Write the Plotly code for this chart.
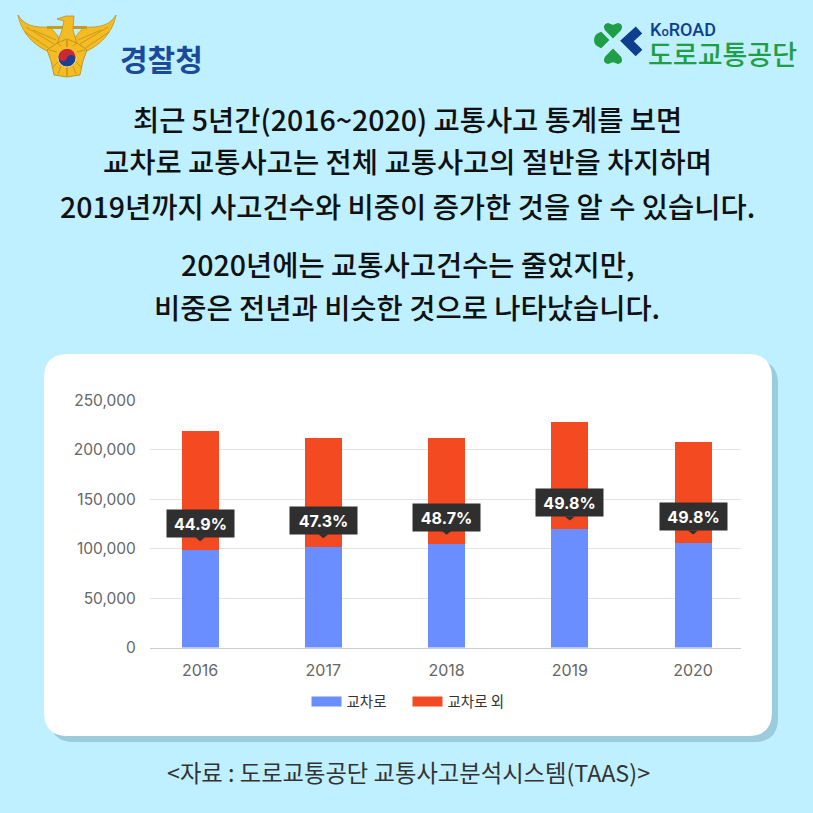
"""Intersection share of traffic accidents, 2016-2020 (card news layout)."""

import plotly.graph_objects as go

W = H = 813
BG = "#BFF0FF"
KR = "Noto Sans CJK KR"

years = [2016, 2017, 2018, 2019, 2020]
crossing = [98500, 101500, 105000, 119500, 105300]
other = [120500, 110500, 107000, 109200, 102200]
shares = ["44.9%", "47.3%", "48.7%", "49.8%", "49.8%"]
y_ticks = [0, 50000, 100000, 150000, 200000, 250000]
series_names = ["교차로", "교차로 외"]
series_colors = ["#6A8DFF", "#F34A22"]

heading = [
    ("최근 5년간(2016~2020) 교통사고 통계를 보면", 118),
    ("교차로 교통사고는 전체 교통사고의 절반을 차지하며", 161),
    ("2019년까지 사고건수와 비중이 증가한 것을 알 수 있습니다.", 205),
    ("2020년에는 교통사고건수는 줄었지만,", 263),
    ("비중은 전년과 비슷한 것으로 나타났습니다.", 306),
]
source = "<자료 : 도로교통공단 교통사고분석시스템(TAAS)>"


def px_path(points, close=True):
    # page pixels -> paper coordinates; items are "L"/"M" points or raw "Q"/"C" groups
    out = []
    for cmd, *xy in points:
        pairs = [f"{xy[i] / W:.5f},{1 - xy[i + 1] / H:.5f}" for i in range(0, len(xy), 2)]
        out.append(cmd + " ".join(pairs))
    return " ".join(out) + (" Z" if close else "")


def round_rect(x0, y0, x1, y1, r):
    return px_path([
        ("M", x0 + r, y0), ("L", x1 - r, y0), ("Q", x1, y0, x1, y0 + r),
        ("L", x1, y1 - r), ("Q", x1, y1, x1 - r, y1), ("L", x0 + r, y1),
        ("Q", x0, y1, x0, y1 - r), ("L", x0, y0 + r), ("Q", x0, y0, x0 + r, y0),
    ])


def deco(path, fill="rgba(0,0,0,0)", line=None, width=0):
    return dict(type="path", xref="paper", yref="paper", path=path, fillcolor=fill,
                line=dict(color=line or "rgba(0,0,0,0)", width=width), layer="below")


def mirror(points, cx=67):
    return [(p[0], *[2 * cx - v if i % 2 == 0 else v for i, v in enumerate(p[1:])]) for p in points]


def page_text(text, x, y, font, xanchor="center"):
    return dict(text=text, x=x / W, y=1 - y / H, xref="paper", yref="paper", showarrow=False,
                xanchor=xanchor, yanchor="middle", font=font)


shapes = [
    deco(round_rect(50, 360, 778, 742, 24), "#9CCBDB"),
    deco(round_rect(44, 354, 772, 736, 24), "#FFFFFF"),
]

# police emblem
GOLD, GOLD_D = "#F4BC22", "#B58A1C"
wing = [("M", 18, 15), ("C", 24, 25, 34, 28, 50, 27), ("L", 58, 36), ("L", 60, 48), ("L", 52, 53),
        ("C", 38, 48, 22, 36, 18, 15)]
shapes += [deco(px_path(wing), GOLD, GOLD_D, 0.7), deco(px_path(mirror(wing)), GOLD, GOLD_D, 0.7)]
for pts in ([("M", 26, 27), ("L", 54, 44)], [("M", 33, 30), ("L", 56, 40)], [("M", 25, 32), ("L", 50, 49)]):
    shapes += [deco(px_path(pts, False), line=GOLD_D, width=0.7),
               deco(px_path(mirror(pts), False), line=GOLD_D, width=0.7)]
shapes += [
    deco(px_path([("M", 47, 26), ("L", 87, 26), ("L", 87, 29), ("L", 47, 29)]), "#C99A20"),
    deco(px_path([("M", 57, 19), ("L", 66, 16), ("L", 74, 16), ("L", 73, 30), ("L", 77, 44), ("L", 57, 44),
                  ("L", 62, 30), ("L", 64, 21)]), GOLD, GOLD_D, 0.7),
    deco(px_path([("M", 67, 39), ("L", 77, 43), ("L", 87, 50), ("L", 83, 61), ("L", 80, 75), ("L", 67, 77),
                  ("L", 54, 75), ("L", 51, 61), ("L", 47, 50), ("L", 57, 43)]), GOLD, GOLD_D, 0.8),
]
for pts in ([("M", 67, 47), ("L", 67, 40)], [("M", 67, 67), ("L", 67, 76)], [("M", 58, 62), ("L", 52, 68)],
            [("M", 57, 52), ("L", 49, 50)], [("M", 61, 46), ("L", 57, 43)], [("M", 61, 66), ("L", 58, 74)]):
    shapes += [deco(px_path(pts, False), line=GOLD_D, width=0.7),
               deco(px_path(mirror(pts), False), line=GOLD_D, width=0.7)]
shapes += [
    dict(type="circle", xref="paper", yref="paper", x0=58 / W, x1=76 / W, y0=1 - 67 / H, y1=1 - 49 / H,
         fillcolor="#1D3F91", line=dict(color="#E9D9A0", width=1), layer="below"),
    deco(px_path([("M", 58.3, 57), ("C", 60, 46, 75, 46, 75.7, 58), ("C", 74, 54, 68, 54, 67, 58),
                  ("C", 66, 62, 60, 62, 58.3, 57)]), "#CC2A33"),
]

# road authority mark
GREEN, NAVY = "#1F9E47", "#0E3F8F"
top = [("M", 613, 37), ("L", 606, 30), ("Q", 603, 25, 608, 24), ("L", 613, 26), ("L", 618, 24),
       ("Q", 623, 25, 620, 30)]
bottom = [(p[0], *[2 * 43.5 - v if i % 2 else v for i, v in enumerate(p[1:])]) for p in top]
left = [("M", 608, 40), ("L", 601, 33), ("Q", 595, 35, 595, 40), ("Q", 595, 45, 601, 47)]
shapes += [deco(px_path(p), GREEN, GREEN, 2) for p in (top, bottom, left)]
shapes.append(deco(px_path([("M", 639, 30), ("L", 627, 41), ("L", 639, 53)], False), line=NAVY, width=9.5))

annotations = [page_text(t, 407, y, dict(family=KR, size=28.5, color="#111111", weight=500)) for t, y in heading]
annotations += [
    page_text(source, 409, 771.5, dict(family=KR, size=23.3, color="#333333", weight=400)),
    page_text("경찰청", 161, 57.5, dict(family=KR, size=30, color="#1C4A9B", weight=700)),
    page_text('K<span style="font-size:13px">o</span>ROAD', 648, 30,
              dict(family="Roboto", size=18, color=NAVY, weight=500), xanchor="left"),
    page_text("도로교통공단", 722, 54, dict(family=KR, size=27, color=GREEN, weight=500)),
]
# value tags sitting just above the blue segment
for yr, val, label in zip(years, crossing, shares):
    annotations.append(dict(
        text=f"<b>{label}</b>", x=yr, y=val, xref="x", yref="y", yanchor="bottom", yshift=12,
        showarrow=False, width=65, height=25, bgcolor="#2F2F2F",
        font=dict(family="Inter", size=16, color="#FFFFFF"),
    ))
    shapes.append(dict(
        type="path", xref="x", yref="y", xsizemode="pixel", ysizemode="pixel", xanchor=yr, yanchor=val,
        path="M -5 13 L 5 13 L 0 9 Z", fillcolor="#2F2F2F", line=dict(width=0),
    ))

fig = go.Figure()
for name, color, vals in zip(series_names, series_colors, [crossing, other]):
    fig.add_trace(go.Bar(x=years, y=vals, name=name, width=0.3, showlegend=False,
                         marker=dict(color=color, line=dict(width=0))))
    # wide flat swatches for the legend
    fig.add_trace(go.Scatter(x=[None], y=[None], name=name, mode="lines", line=dict(color=color, width=10)))

fig.update_layout(
    width=W, height=H, margin=dict(l=0, r=0, t=0, b=0, autoexpand=False), barmode="stack",
    paper_bgcolor=BG, plot_bgcolor="rgba(0,0,0,0)", shapes=shapes, annotations=annotations,
    xaxis=dict(domain=[150 / W, 741 / W], range=[2015.594, 2020.389], tickvals=years,
               ticks="outside", ticklen=8, tickcolor="rgba(0,0,0,0)", showgrid=False, zeroline=False,
               showline=True, linecolor="#CCCCCC", tickfont=dict(family="Inter", size=16, color="#666666")),
    yaxis=dict(domain=[1 - 647.5 / H, 1 - 400.5 / H], range=[0, 250000], tickvals=y_ticks, tickformat=",",
               ticks="outside", ticklen=10, tickcolor="rgba(0,0,0,0)", gridcolor="#E3E3E3", zeroline=False,
               tickfont=dict(family="Inter", size=15.5, color="#666666")),
    legend=dict(orientation="h", x=306.5 / W, xanchor="left",
                y=1 - 701.5 / H, yanchor="middle", itemwidth=30, traceorder="normal",
                entrywidth=56, entrywidthmode="pixels", bgcolor="rgba(0,0,0,0)",
                font=dict(family=KR, size=14.5, color="#333333")),
)

fig.write_html("out.html", config=dict(displayModeBar=False),
               post_script=f"document.body.style.margin='0';document.body.style.background='{BG}';")
